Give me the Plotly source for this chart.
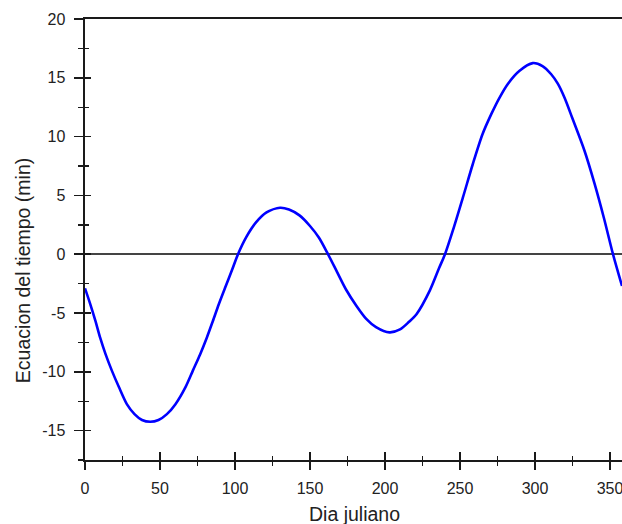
import plotly.graph_objects as go

# Day of year (Dia juliano) and equation of time (min)
days = [0, 3.4, 7, 10.1, 13.7, 17.9, 22.6, 27.9, 33, 38, 43.5, 49, 54.6,
        60.3, 67, 71.9, 76.8, 81.2, 85.2, 89.2, 93.4, 98, 102, 107.5, 114,
        121, 130, 136, 143, 150, 156, 162, 168, 174, 181, 187.5, 194, 203,
        210, 216, 221, 230, 236, 240, 245.2, 252, 258.5, 265, 271, 276.3, 282,
        289.7, 298.5, 305, 310.8, 315.2, 319.7, 324.8, 333, 339.7, 345.9,
        352, 358]
eot = [-2.9, -4.2, -5.7, -7.1, -8.5, -9.9, -11.3, -12.75, -13.6, -14.1,
       -14.25, -14.1, -13.6, -12.75, -11.3, -9.9, -8.5, -7.1, -5.7, -4.25,
       -2.85, -1.35, 0.0, 1.45, 2.7, 3.55, 3.95, 3.8, 3.3, 2.4, 1.4, 0.0, -1.5,
       -3.0, -4.4, -5.5, -6.2, -6.65, -6.4, -5.75, -5.1, -3.05, -1.2, 0.0,
       2.0, 4.85, 7.65, 10.2, 11.95, 13.3, 14.5, 15.6, 16.25, 16.0, 15.3, 14.5,
       13.3, 11.6, 8.8, 6.0, 3.1, 0.0, -2.7]

x_ticks = [0, 50, 100, 150, 200, 250, 300, 350]
x_ticktext = ["0", "50", "100", "150", "200", "250", "300", "350"]
y_ticks = [-15, -10, -5, 0, 5, 10, 15, 20]
y_ticktext = ["-15", "-10", "-5", "0", "5", "10", "15", "20"]

x_title = "Dia juliano"
y_title = "Ecuacion del tiempo (min)"

X_RANGE = [0, 358]
Y_RANGE = [-17.5, 20]
AX = "#1a1a1a"
TXT = "#222222"
FONT = "Arial, Liberation Sans, sans-serif"
TICK_SIZE = 16
TITLE_SIZE = 19.5

fig = go.Figure()
fig.add_trace(go.Scatter(x=days, y=eot, mode="lines",
                         line=dict(color="#0000ff", width=2.6, shape="spline",
                                   smoothing=0.8),
                         hoverinfo="skip", showlegend=False))
# invisible trace to anchor the overlay axes (inner halves of tick marks)
fig.add_trace(go.Scatter(x=days, y=eot, mode="lines", xaxis="x2", yaxis="y2",
                         line=dict(color="rgba(0,0,0,0)", width=0),
                         hoverinfo="skip", showlegend=False))

fig.update_layout(
    width=622, height=524,
    margin=dict(l=85, r=0, t=19, b=64),
    paper_bgcolor="white", plot_bgcolor="white",
    font=dict(family=FONT, color=TXT, size=TICK_SIZE),
    hovermode=False,
    xaxis=dict(range=X_RANGE, tickvals=x_ticks, ticktext=x_ticktext,
               showgrid=False, zeroline=False,
               showline=True, linecolor=AX, linewidth=2, mirror=True,
               ticks="outside", ticklen=8, tickwidth=1.6, tickcolor=AX,
               ticklabelstandoff=5, ticklabeloverflow="allow",
               minor=dict(dtick=25, tick0=0, ticks="outside", ticklen=4,
                          tickwidth=1.4, tickcolor=AX, showgrid=False),
               tickfont=dict(size=TICK_SIZE, color=TXT)),
    yaxis=dict(range=Y_RANGE, tickvals=y_ticks, ticktext=y_ticktext,
               showgrid=False, zeroline=True, zerolinecolor="#444444",
               zerolinewidth=1.6,
               showline=True, linecolor=AX, linewidth=2,
               ticks="outside", ticklen=9.5, tickwidth=1.6, tickcolor=AX,
               ticklabelstandoff=5, ticklabeloverflow="allow",
               minor=dict(dtick=2.5, tick0=0, ticks="outside", ticklen=5.5,
                          tickwidth=1.4, tickcolor=AX, showgrid=False),
               tickfont=dict(size=TICK_SIZE, color=TXT)),
    xaxis2=dict(range=X_RANGE, overlaying="x", anchor="y2", side="bottom",
                tickvals=x_ticks, showticklabels=False, showgrid=False,
                zeroline=False, showline=False,
                ticks="inside", ticklen=8.5, tickwidth=1.6, tickcolor=AX,
                minor=dict(dtick=25, tick0=0, ticks="inside", ticklen=4,
                           tickwidth=1.4, tickcolor=AX, showgrid=False)),
    yaxis2=dict(range=Y_RANGE, overlaying="y", anchor="x2", side="left",
                tickvals=y_ticks, showticklabels=False, showgrid=False,
                zeroline=False, showline=False,
                ticks="inside", ticklen=6, tickwidth=1.6, tickcolor=AX,
                minor=dict(dtick=2.5, tick0=0, ticks="inside", ticklen=3.5,
                           tickwidth=1.4, tickcolor=AX, showgrid=False)),
    annotations=[
        dict(text=x_title, xref="paper", yref="paper", x=0.501, y=-0.122,
             xanchor="center", yanchor="middle", showarrow=False,
             font=dict(size=TITLE_SIZE, color=TXT, family=FONT)),
        dict(text=y_title, xref="paper", yref="paper", x=-0.114, y=0.43,
             xanchor="center", yanchor="middle", showarrow=False,
             textangle=-90, font=dict(size=TITLE_SIZE, color=TXT, family=FONT)),
    ],
)

fig.write_html("out.html",
               config={"displayModeBar": False, "staticPlot": True},
               post_script="document.body.style.margin='0';"
                           "document.body.style.overflow='hidden';")
